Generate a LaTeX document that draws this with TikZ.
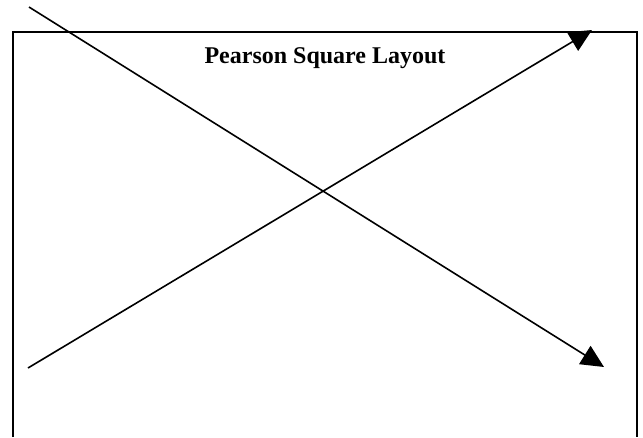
\documentclass[tikz,border=0pt]{standalone}
\usepackage{fontspec}
\setmainfont{Liberation Serif}
\usetikzlibrary{arrows.meta}

\begin{document}
\begin{tikzpicture}[x=0.75pt, y=-0.75pt]
  \useasboundingbox (0,0) rectangle (643,437);
  \draw[line width=1.5pt] (13,437) -- (13,32) -- (637,32) -- (637,437);
  \node[font=\bfseries\fontsize{18}{21}\selectfont] (title) at (325,58) {Pearson Square Layout};
  \coordinate (topleft) at (29,7);
  \coordinate (botright) at (604,367);
  \coordinate (botleft) at (28,368);
  \coordinate (topright) at (592,30);
  \draw[line width=1.2pt, -{Triangle[length=17pt, width=16pt]}] (topleft) -- (botright);
  \draw[line width=1.2pt, -{Triangle[length=17pt, width=16pt]}] (botleft) -- (topright);
\end{tikzpicture}
\end{document}
